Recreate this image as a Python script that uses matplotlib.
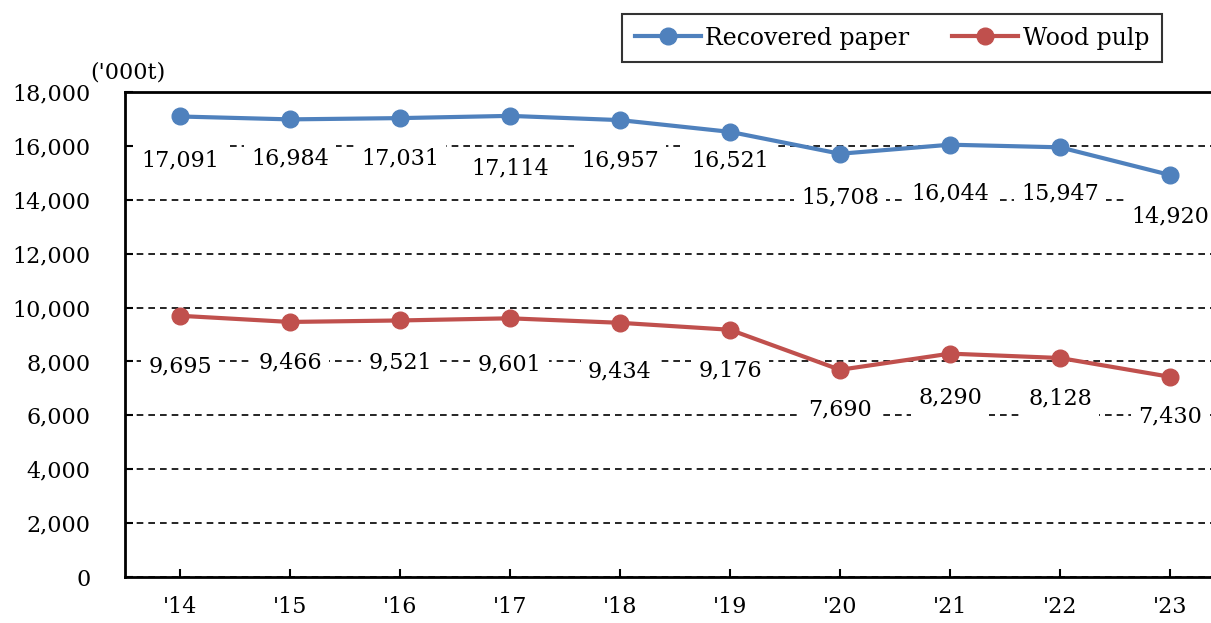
import matplotlib
matplotlib.use("Agg")
import matplotlib.pyplot as plt

years = ["'14", "'15", "'16", "'17", "'18", "'19", "'20", "'21", "'22", "'23"]
recovered = [17091, 16984, 17031, 17114, 16957, 16521, 15708, 16044, 15947, 14920]
wood = [9695, 9466, 9521, 9601, 9434, 9176, 7690, 8290, 8128, 7430]
yticks = [0, 2000, 4000, 6000, 8000, 10000, 12000, 14000, 16000, 18000]

# label offsets below points (pixels)
rec_off = [44, 39, 40, 53, 40, 29, 44, 49, 46, 41]
wood_off = [51, 40, 42, 46, 49, 41, 40, 44, 40, 40]

blue = "#4F81BD"
red = "#C0504D"
font = "DejaVu Serif"
fs = 16

plt.rcParams['font.family'] = [font]

fig = plt.figure(figsize=(12.11, 6.23), dpi=100)
ax = fig.add_axes([125/1211, 46/623, 1100/1211, 485/623])

x = list(range(len(years)))
ax.plot(x, recovered, color=blue, lw=3, marker='o', ms=12, label='Recovered paper', zorder=4)
ax.plot(x, wood, color=red, lw=3, marker='o', ms=12, label='Wood pulp', zorder=4)

for xi, v, o in zip(x, recovered, rec_off):
    ax.annotate(f"{v:,}", (xi, v), xytext=(0, -o * 0.72), textcoords='offset points',
                ha='center', va='center', fontsize=fs, zorder=3,
                bbox=dict(facecolor='white', edgecolor='none', pad=5))
for xi, v, o in zip(x, wood, wood_off):
    ax.annotate(f"{v:,}", (xi, v), xytext=(0, -o * 0.72), textcoords='offset points',
                ha='center', va='center', fontsize=fs, zorder=3,
                bbox=dict(facecolor='white', edgecolor='none', pad=5))

ax.set_xlim(-0.5, 9.5)
ax.set_ylim(0, 18000)
ax.set_yticks(yticks)
ax.set_yticklabels([f"{t:,}" for t in yticks], fontsize=fs)
ax.set_xticks(x)
ax.set_xticklabels(years, fontsize=fs)
ax.tick_params(axis='y', direction='in', length=6, width=1.5, pad=25)
ax.tick_params(axis='x', direction='in', length=6, width=1.5, pad=14)
ax.yaxis.grid(True, linestyle=(0, (4, 3)), color='black', lw=1.2, zorder=1)
ax.set_axisbelow(True)
for s in ['left', 'bottom', 'top']:
    ax.spines[s].set_linewidth(2)
ax.spines['right'].set_visible(False)

fig.text(90/1211, 1 - 72/623, "('000t)", fontsize=fs, ha='left', va='center')

leg = fig.legend(loc='center', bbox_to_anchor=(892/1211, 1 - 38/623), ncol=2,
                 fontsize=17, frameon=True, fancybox=False, edgecolor='black',
                 handlelength=2.8, columnspacing=1.8, handletextpad=0.2,
                 borderpad=0.55, borderaxespad=0)
leg.get_frame().set_linewidth(1.5)

fig.savefig("out.png", dpi=100)
